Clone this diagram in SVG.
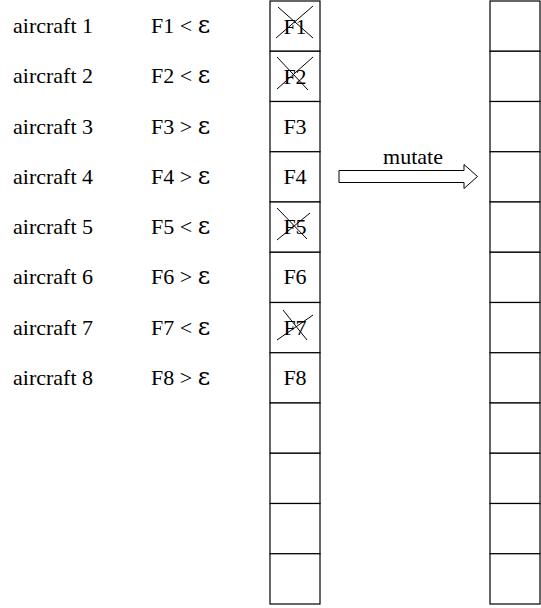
<svg xmlns="http://www.w3.org/2000/svg" width="541" height="608" viewBox="0 0 541 608">
<style>
text{font-family:"Liberation Serif","Times New Roman",serif;font-size:22px;fill:#000}
.eps{font-family:"DejaVu Serif","Liberation Serif",serif;font-size:24px}
.cell{fill:#fff;stroke:#000;stroke-width:1.2}
.x{stroke:#000;stroke-width:1;fill:none}
.arrow{fill:#fff;stroke:#000;stroke-width:1}
</style>
<rect width="541" height="608" fill="#fff"/>
<g id="labels">
<g id="row1"><text x="13" y="33">aircraft 1</text><text x="151" y="33">F1 &lt; <tspan class="eps">ε</tspan></text></g>
<g id="row2"><text x="13" y="83">aircraft 2</text><text x="151" y="83">F2 &lt; <tspan class="eps">ε</tspan></text></g>
<g id="row3"><text x="13" y="134">aircraft 3</text><text x="151" y="134">F3 &gt; <tspan class="eps">ε</tspan></text></g>
<g id="row4"><text x="13" y="184">aircraft 4</text><text x="151" y="184">F4 &gt; <tspan class="eps">ε</tspan></text></g>
<g id="row5"><text x="13" y="234">aircraft 5</text><text x="151" y="234">F5 &lt; <tspan class="eps">ε</tspan></text></g>
<g id="row6"><text x="13" y="284">aircraft 6</text><text x="151" y="284">F6 &gt; <tspan class="eps">ε</tspan></text></g>
<g id="row7"><text x="13" y="335">aircraft 7</text><text x="151" y="335">F7 &lt; <tspan class="eps">ε</tspan></text></g>
<g id="row8"><text x="13" y="385">aircraft 8</text><text x="151" y="385">F8 &gt; <tspan class="eps">ε</tspan></text></g>
</g>
<g id="left-column" text-anchor="middle">
<g id="L1"><rect class="cell" x="270" y="1" width="50" height="50.25"/><text x="295" y="34">F1</text><path class="x" d="M278 7L313 38M313 6L276 38"/></g>
<g id="L2"><rect class="cell" x="270" y="51.25" width="50" height="50.25"/><text x="295" y="84">F2</text><path class="x" d="M277 57L308 90M313 57L277 89"/></g>
<g id="L3"><rect class="cell" x="270" y="101.5" width="50" height="50.25"/><text x="295" y="134">F3</text></g>
<g id="L4"><rect class="cell" x="270" y="151.75" width="50" height="50.25"/><text x="295" y="184">F4</text></g>
<g id="L5"><rect class="cell" x="270" y="202" width="50" height="50.25"/><text x="295" y="234">F5</text><path class="x" d="M277 208L307 239M310 213L277 240"/></g>
<g id="L6"><rect class="cell" x="270" y="252.25" width="50" height="50.25"/><text x="295" y="284">F6</text></g>
<g id="L7"><rect class="cell" x="270" y="302.5" width="50" height="50.25"/><text x="295" y="335">F7</text><path class="x" d="M283 310L307 340M313 315L277 340"/></g>
<g id="L8"><rect class="cell" x="270" y="352.75" width="50" height="50.25"/><text x="295" y="385">F8</text></g>
<g id="L9"><rect class="cell" x="270" y="403" width="50" height="50.25"/></g>
<g id="L10"><rect class="cell" x="270" y="453.25" width="50" height="50.25"/></g>
<g id="L11"><rect class="cell" x="270" y="503.5" width="50" height="50.25"/></g>
<g id="L12"><rect class="cell" x="270" y="553.75" width="50" height="50.25"/></g>
</g>
<g id="right-column">
<g id="R1"><rect class="cell" x="490" y="1" width="50" height="50.25"/></g>
<g id="R2"><rect class="cell" x="490" y="51.25" width="50" height="50.25"/></g>
<g id="R3"><rect class="cell" x="490" y="101.5" width="50" height="50.25"/></g>
<g id="R4"><rect class="cell" x="490" y="151.75" width="50" height="50.25"/></g>
<g id="R5"><rect class="cell" x="490" y="202" width="50" height="50.25"/></g>
<g id="R6"><rect class="cell" x="490" y="252.25" width="50" height="50.25"/></g>
<g id="R7"><rect class="cell" x="490" y="302.5" width="50" height="50.25"/></g>
<g id="R8"><rect class="cell" x="490" y="352.75" width="50" height="50.25"/></g>
<g id="R9"><rect class="cell" x="490" y="403" width="50" height="50.25"/></g>
<g id="R10"><rect class="cell" x="490" y="453.25" width="50" height="50.25"/></g>
<g id="R11"><rect class="cell" x="490" y="503.5" width="50" height="50.25"/></g>
<g id="R12"><rect class="cell" x="490" y="553.75" width="50" height="50.25"/></g>
</g>
<g id="connectors">
<polygon class="arrow" points="339,170.5 464,170.5 464,164.5 477.5,176.5 464,188.5 464,182.5 339,182.5"/>
<text x="413" y="164" text-anchor="middle">mutate</text>
</g>
</svg>
